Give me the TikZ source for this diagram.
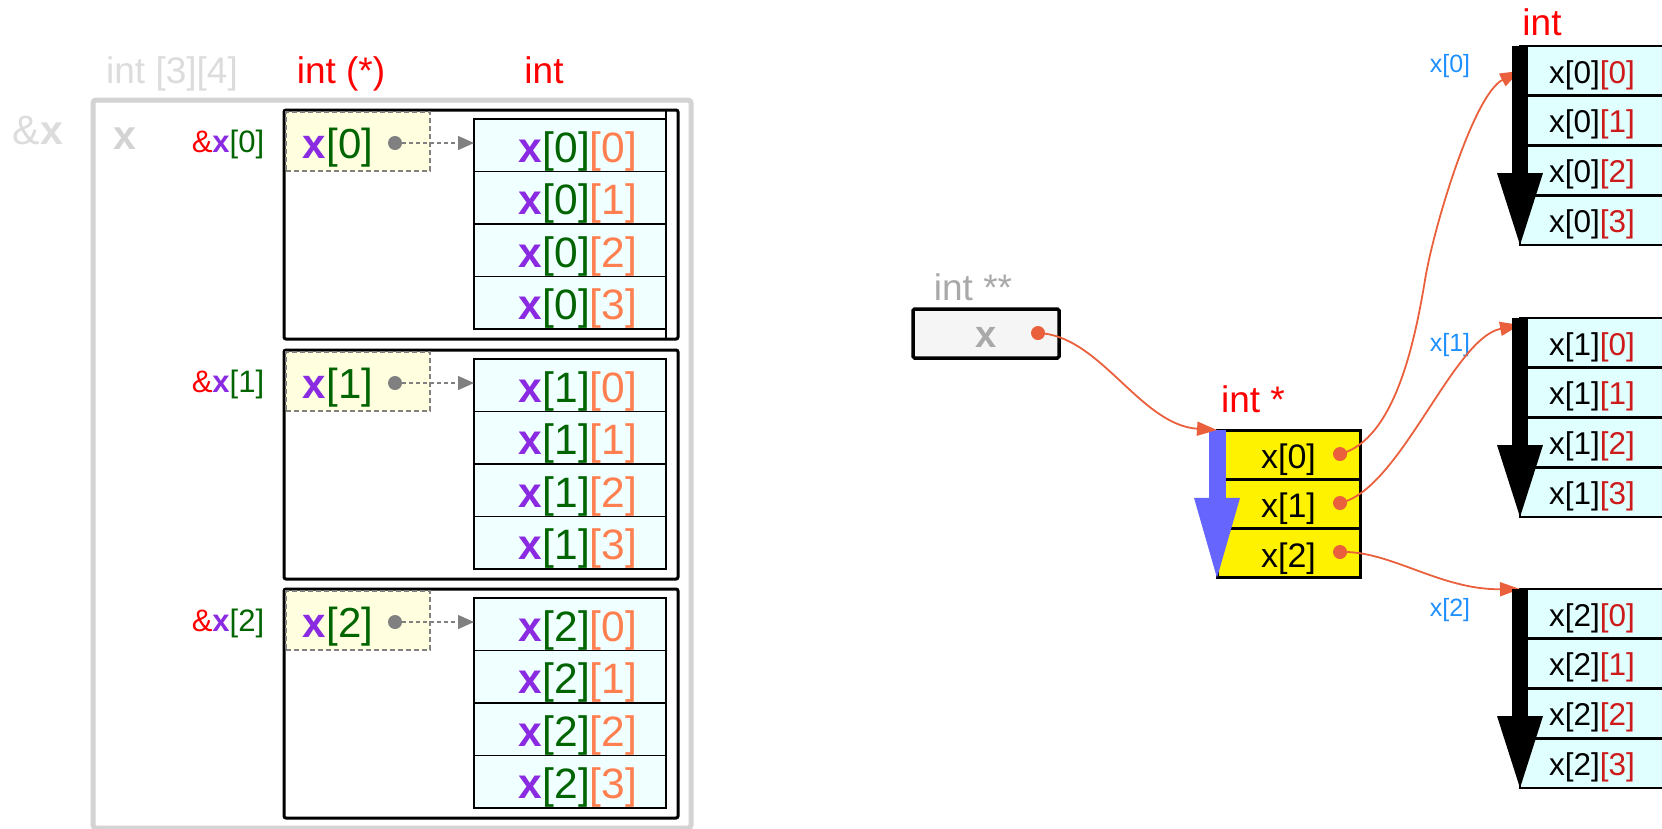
\documentclass[tikz,border=0pt]{standalone}
\usepackage{fontspec}
\setmainfont{Liberation Sans}
\usetikzlibrary{arrows.meta,calc}
\definecolor{azurec}{HTML}{F0FFFF}
\definecolor{lcyan}{HTML}{E0FFFF}
\definecolor{lyellow}{HTML}{FFFFE0}
\definecolor{ptr}{HTML}{EB603C}
\definecolor{bviolet}{HTML}{8A2BE2}
\definecolor{dgreen}{HTML}{006400}
\definecolor{coralc}{HTML}{FF7F50}
\definecolor{idxred}{HTML}{CD1A1A}
\definecolor{lgrayc}{HTML}{D3D3D3}
\definecolor{vlgray}{HTML}{DCDCDC}
\definecolor{dgrayc}{HTML}{A9A9A9}
\definecolor{dblue}{HTML}{1E90FF}
\definecolor{bbar}{HTML}{6666FF}
\definecolor{wsmoke}{HTML}{F5F5F5}
\definecolor{midgray}{HTML}{808080}
\newcommand{\fsz}[1]{\fontsize{#1}{#1}\selectfont}
\newcommand{\cellL}[2]{{\color{bviolet}\bfseries x}{\color{dgreen}[#1]}{\color{coralc}[#2]}}
\newcommand{\cellR}[2]{x[#1]{\color{idxred}[#2]}}
\newcommand{\rowY}[1]{{\color{bviolet}\bfseries x}{\color{dgreen}[#1]}}
\newcommand{\addrX}[1]{{\color{red}\&}{\color{bviolet}\bfseries x}{\color{dgreen}[#1]}}
\begin{document}
\begin{tikzpicture}[x=1pt,y=-1pt,
  every node/.style={inner sep=0pt,outer sep=0pt},
  lcell/.style={draw=black,line width=1.6pt,fill=azurec,minimum width=192pt,minimum height=52.5pt,font=\fsz{42.5},text height=34.2pt,text depth=0pt},
  rcell/.style={draw=black,line width=2.8pt,fill=lcyan,minimum width=144pt,minimum height=49.75pt,font=\fsz{31.5},text height=24.4pt,text depth=0pt},
  pcell/.style={draw=black,line width=3pt,fill=yellow,minimum width=143pt,minimum height=49.3pt,font=\fsz{34},text height=27.7pt,text depth=0pt},
  grp/.style={draw=black,line width=3pt,rounded corners=2pt,minimum width=394pt,minimum height=229pt},
  ybox/.style={draw=midgray,dash pattern=on 5pt off 3pt,line width=1.6pt,fill=lyellow,minimum width=144pt,minimum height=59pt},
  gdot/.style={circle,fill=midgray,minimum size=14pt},
  odot/.style={circle,fill=ptr,minimum size=14pt},
  ptrline/.style={draw=ptr,line width=1.8pt,-{Triangle[length=20pt,width=14pt]}},
  ylab/.style={font=\fsz{42},anchor=base},
  alab/.style={font=\fsz{31},anchor=base},
  tlab/.style={font=\fsz{37},anchor=base},
  blab/.style={font=\fsz{25},text=dblue,anchor=base}
]
\useasboundingbox (0,0) rectangle (1662,828);

% ---------- left: int x[3][4] ----------
\node[draw=lgrayc,line width=5pt,rounded corners=3pt,minimum width=598pt,minimum height=728pt] (outer) at (392,464) {};
\node[tlab,text=vlgray] (tarr) at (172,83) {int [3][4]};
\node[tlab,text=red] (tptr) at (341,83) {int (*)};
\node[tlab,text=red] (tint) at (544,83) {int};
\node[font=\fsz{41},text=vlgray,anchor=base] (ampx) at (38,144) {\&{\bfseries x}};
\node[font=\fsz{41}\bfseries,text=lgrayc,anchor=base] (xnm) at (125,149) {x};

\foreach \i/\T in {0/110,1/350,2/589}{
  \node[grp] (g\i) at (481,\T+114.5) {};
  \node[ybox] (yb\i) at (358,\T+31.5) {};
  \node[ylab] (yt\i) at (338,\T+48) {\rowY{\i}};
  \node[alab] (ad\i) at (228,\T+42) {\addrX{\i}};
  \foreach \j in {0,...,3}{
    \node[lcell] (c\i\j) at (570,\T+35.25+52.5*\j) {\hspace*{16pt}\cellL{\i}{\j}};
  }
  \node[gdot] (yd\i) at (395,\T+33) {};
  \draw[midgray,line width=1.3pt,dash pattern=on 4pt off 3pt,-{Triangle[length=16pt,width=14pt]}] (yd\i.center) -- (yd\i.center -| c\i0.west);
}
\draw[line width=1.6pt] (g0.north -| c00.east) -- (g0.south -| c00.east);

% ---------- middle: int **x ----------
\node[tlab,text=dgrayc] (tpp) at (973,300) {int **};
\node[draw=black,line width=3.5pt,fill=wsmoke,rounded corners=1.5pt,minimum width=146pt,minimum height=49pt] (xbox) at (986,333.5) {};
\node[font=\fsz{38}\bfseries,text=dgrayc,anchor=base] (xbt) at (986,347) {x};
\node[odot] (xd) at (1038,333) {};

\node[tlab,text=red] (tp) at (1253,412) {int *};
\foreach \j in {0,1,2}{
  \node[pcell] (p\j) at (1288.5,454.65+49.3*\j) {x[\j]};
}
\draw[bbar,line width=17pt,-{Triangle[length=80pt,width=46pt,line width=0pt]}] (p0.north west) -- (p2.south west);
\foreach \j/\yy in {0/454,1/503,2/552}{
  \node[odot] (pd\j) at (1340,\yy) {};
}
\draw[ptrline] (xd.center) .. controls (1100,335) and (1140,425) .. (p0.north west);

% ---------- right: rows ----------
\node[tlab,text=red] (tr) at (1542,35) {int};
\foreach \i/\T in {0/46,1/318,2/589}{
  \foreach \j in {0,...,3}{
    \node[rcell] (r\i\j) at (1592,\T+24.875+49.75*\j) {\cellR{\i}{\j}};
  }
}
\node[blab] (bl0) at (1450,72.5) {x[0]};
\node[blab] (bl1) at (1450,351.5) {x[1]};
\node[blab] (bl2) at (1450,616.5) {x[2]};

\coordinate (mid0) at (1425,280);
\draw[ptrline] (pd0.center) .. controls (1395,440) and (1415,340) .. (mid0) .. controls (1433,230) and (1473,95) .. (r00.west);
\draw[ptrline] (pd1.center) .. controls (1400,490) and (1453,338) .. ($(r10.north west)+(0,7)$);
\draw[ptrline] (pd2.center) .. controls (1390,550) and (1440,590) .. (r20.north west);

\foreach \i in {0,1,2}{
  \draw[black,line width=16pt,-{Triangle[length=72pt,width=46pt,line width=0pt]}] (r\i0.north west) -- (r\i3.south west);
}
\end{tikzpicture}
\end{document}
